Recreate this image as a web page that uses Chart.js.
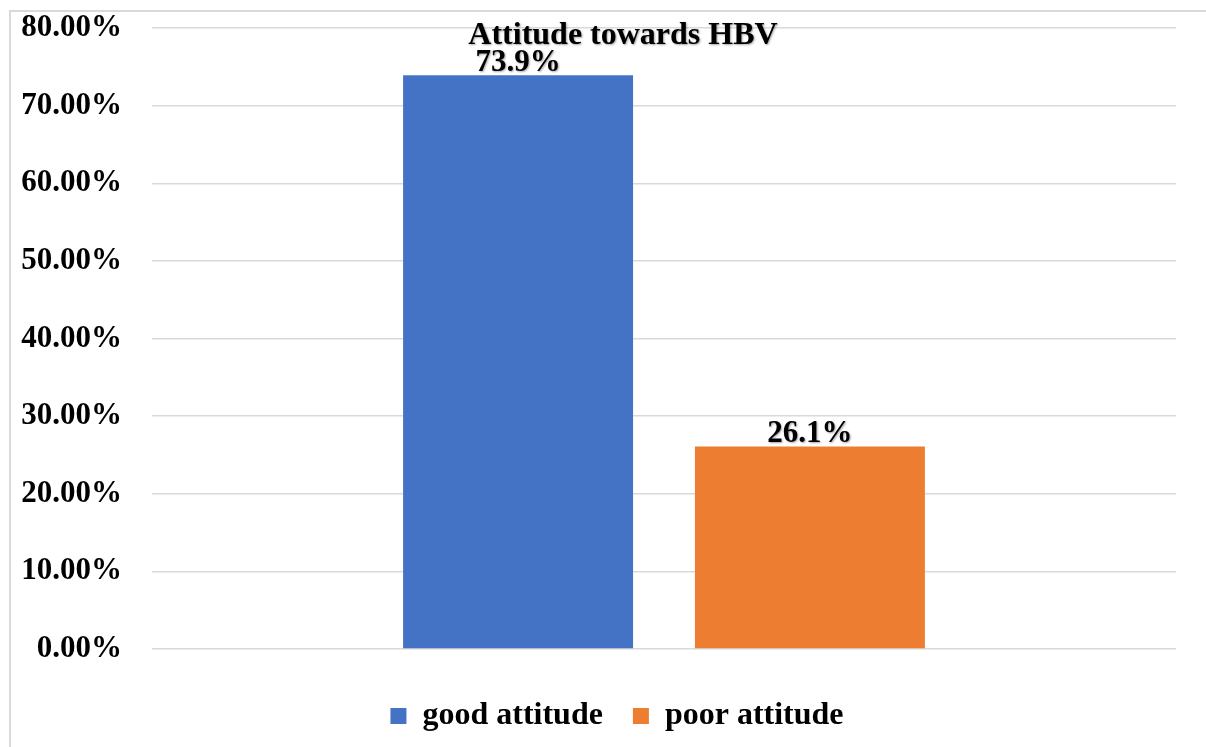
<!DOCTYPE html>
<html>
<head>
<meta charset="utf-8">
<script src="https://cdn.jsdelivr.net/npm/chart.js@4.4.0/dist/chart.umd.min.js"></script>
<style>
html,body{margin:0;padding:0;background:#fff;}
#wrap{position:relative;width:1206px;height:747px;}
</style>
</head>
<body>
<div id="wrap"><canvas id="c" width="1206" height="747"></canvas></div>
<script>
const chartTitle = "Attitude towards HBV";
const categories = ["Attitude towards HBV"];
const seriesNames = ["good attitude", "poor attitude"];
const goodValues = [73.9];
const poorValues = [26.1];
const dataLabels = ["73.9%", "26.1%"];
const seriesColors = ["#4472C4", "#ED7D31"];

const FONT = "'Liberation Serif', 'Times New Roman', serif";

const framePlugin = {
  id: 'frame',
  afterLayout(chart) {
    if (chart.legend) {
      chart.legend.left += 24;
      chart.legend.right += 24;
    }
  },
  beforeDraw(chart) {
    const ctx = chart.ctx;
    ctx.save();
    ctx.fillStyle = '#fff';
    ctx.fillRect(0, 0, chart.width, chart.height);
    ctx.strokeStyle = '#d9d9d9';
    ctx.lineWidth = 2;
    ctx.strokeRect(10, 11, chart.width + 50, chart.height + 50);
    ctx.restore();
  }
};

const labelPlugin = {
  id: 'labels',
  afterDatasetsDraw(chart) {
    const ctx = chart.ctx;
    ctx.save();
    ctx.font = "bold 31px " + FONT;
    ctx.fillStyle = '#000';
    ctx.textAlign = 'center';
    ctx.textBaseline = 'alphabetic';
    ctx.shadowColor = 'rgba(0,0,0,0.35)';
    ctx.shadowOffsetX = 1; ctx.shadowOffsetY = 1; ctx.shadowBlur = 2;
    chart.data.datasets.forEach((ds, i) => {
      const meta = chart.getDatasetMeta(i);
      meta.data.forEach((bar) => {
        ctx.fillText(dataLabels[i], bar.x, bar.y - 4);
      });
    });
    ctx.restore();
  },
  afterDraw(chart) {
    const ctx = chart.ctx;
    ctx.save();
    ctx.font = "bold 32px " + FONT;
    ctx.fillStyle = '#000';
    ctx.textAlign = 'center';
    ctx.textBaseline = 'alphabetic';
    ctx.shadowColor = 'rgba(0,0,0,0.35)';
    ctx.shadowOffsetX = 1; ctx.shadowOffsetY = 1; ctx.shadowBlur = 2;
    const cx = (chart.chartArea.left + chart.chartArea.right) / 2 - 41;
    ctx.fillText(chartTitle, cx, 44);
    ctx.restore();
  }
};

new Chart(document.getElementById('c'), {
  type: 'bar',
  data: {
    labels: categories,
    datasets: [
      { label: seriesNames[0], data: goodValues, backgroundColor: seriesColors[0], categoryPercentage: 0.57, barPercentage: 0.788 },
      { label: seriesNames[1], data: poorValues, backgroundColor: seriesColors[1], categoryPercentage: 0.57, barPercentage: 0.788 }
    ]
  },
  options: {
    responsive: false,
    animation: false,
    devicePixelRatio: 1,
    layout: { padding: { top: 28, left: 10, right: 30, bottom: 5 } },
    plugins: {
      title: { display: false },
      tooltip: { enabled: false },
      legend: {
        position: 'bottom',
        labels: {
          color: '#000',
          font: { family: FONT, size: 32, weight: 'bold' },
          boxWidth: 16,
          boxHeight: 16,
          padding: 30
        }
      }
    },
    scales: {
      x: {
        ticks: { display: false },
        grid: { display: false },
        border: { display: false },
        afterFit: (s) => { s.height = 21; }
      },
      y: {
        min: 0,
        max: 80,
        ticks: {
          stepSize: 10,
          padding: 30,
          color: '#000',
          font: { family: FONT, size: 31, weight: 'bold' },
          callback: (v) => v.toFixed(2) + '%'
        },
        grid: { color: '#d9d9d9', lineWidth: 1.5, drawTicks: false },
        border: { display: false },
        afterFit: (s) => { s.width = 142; s.paddingTop = 0; s.paddingBottom = 0; }
      }
    }
  },
  plugins: [framePlugin, labelPlugin]
});
</script>
</body>
</html>
